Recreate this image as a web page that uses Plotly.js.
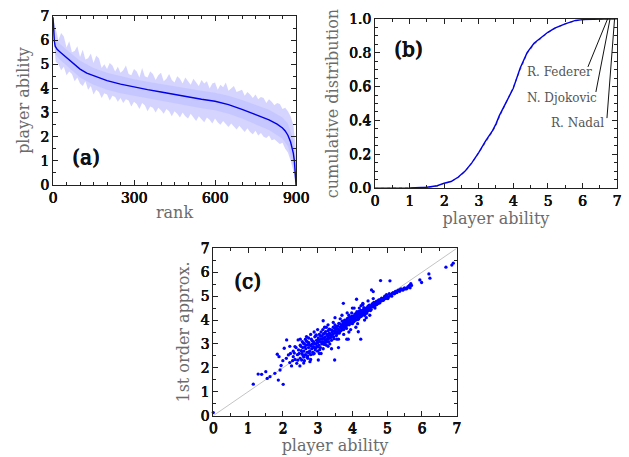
<!DOCTYPE html>
<html>
<head>
<meta charset="utf-8">
<script src="https://cdn.plot.ly/plotly-3.0.1.min.js"></script>
<style>html,body{margin:0;padding:0;background:#fff;}#chart{width:629px;height:457px;}</style>
</head>
<body>
<div id="chart"></div>
<script>
// ---------- Panel (a): player ability vs rank ----------
var lineRank = [0,2,5,8,15,27,50,75,100,125,150,175,200,250,300,350,400,450,500,550,600,650,700,750,800,830,850,860,870,880,885,890,894,897,900];
var lineAbility = [6.95,6.4,5.95,5.75,5.62,5.5,5.27,5.05,4.8,4.63,4.52,4.42,4.32,4.18,4.05,3.95,3.85,3.74,3.64,3.55,3.47,3.33,3.13,2.92,2.7,2.52,2.36,2.24,2.06,1.78,1.58,1.32,1.0,0.6,0.0];

var bandRank = [0,10,20,30,40,50,60,70,80,90,100,110,120,130,140,150,160,170,180,190,200,210,220,230,240,250,260,270,280,290,300,310,320,330,340,350,360,370,380,390,400,410,420,430,440,450,460,470,480,490,500,510,520,530,540,550,560,570,580,590,600,610,620,630,640,650,660,670,680,690,700,710,720,730,740,750,760,770,780,790,800,810,820,830,840,850,860,870,880,890,900];
var bandHigh = [6.95,6.5,6.0,6.3,6.15,5.7,5.95,5.5,5.55,5.75,5.3,5.6,5.2,5.25,5.45,5.05,5.35,5.25,4.85,5.0,4.8,5.05,4.95,4.7,4.9,4.65,4.75,4.95,4.6,4.55,4.8,4.7,4.45,4.85,4.5,4.45,4.7,4.6,4.35,4.55,4.65,4.3,4.4,4.6,4.35,4.25,4.5,4.4,4.2,4.45,4.3,4.15,4.4,4.25,4.1,4.35,4.2,4.3,4.0,4.2,4.25,3.95,4.15,4.05,4.25,3.9,4.0,4.1,3.85,3.9,3.95,3.7,3.85,3.75,3.6,3.75,3.55,3.65,3.6,3.4,3.55,3.45,3.3,3.4,3.35,3.15,3.2,3.05,2.85,2.5,1.5];
var bandLow = [6.4,5.1,5.0,4.75,4.9,4.55,4.7,4.6,4.3,4.45,4.2,4.1,4.3,3.95,4.1,3.75,3.95,3.85,3.6,3.8,3.75,3.5,3.7,3.65,3.45,3.6,3.4,3.55,3.5,3.25,3.45,3.35,3.15,3.4,3.3,3.05,3.25,3.2,3.0,3.2,3.1,2.95,3.15,3.05,2.85,3.05,2.95,2.8,3.0,2.85,2.75,2.95,2.8,2.65,2.85,2.75,2.6,2.8,2.7,2.55,2.75,2.6,2.5,2.65,2.55,2.4,2.55,2.45,2.3,2.45,2.35,2.2,2.35,2.2,2.1,2.25,2.05,2.15,2.0,1.95,2.05,1.85,1.9,1.8,1.7,1.75,1.5,1.35,1.0,0.6,0.0];

var coreRank = [0,10,25,50,100,150,200,250,300,350,400,450,500,550,600,650,700,750,800,850,870,890,900];
var coreHigh = [6.95,6.0,5.85,5.6,5.15,4.85,4.65,4.5,4.38,4.28,4.18,4.08,3.98,3.9,3.82,3.7,3.52,3.32,3.12,2.8,2.55,1.9,0.8];
var coreLow  = [6.5,5.4,5.2,4.95,4.45,4.15,3.95,3.8,3.68,3.58,3.48,3.38,3.28,3.18,3.1,2.95,2.75,2.52,2.28,1.92,1.6,0.8,0.0];

// ---------- Panel (b): cumulative distribution ----------
var cdfAbility = [0,0.5,1,1.5,1.8,2,2.2,2.4,2.6,2.8,3,3.2,3.4,3.5,3.6,3.8,4,4.2,4.4,4.6,4.8,5,5.2,5.5,5.8,6,6.3,6.6,6.8,7];
var cdfData  = [0,0,0.002,0.006,0.015,0.03,0.04,0.065,0.1,0.15,0.21,0.28,0.34,0.38,0.43,0.51,0.59,0.71,0.8,0.855,0.89,0.92,0.945,0.97,0.99,0.995,0.997,0.998,0.999,1.0];
var cdfModel = [0,0,0.001,0.005,0.014,0.028,0.04,0.062,0.098,0.148,0.207,0.272,0.335,0.372,0.422,0.505,0.595,0.7,0.795,0.85,0.887,0.918,0.943,0.969,0.988,0.994,0.997,0.999,1,1];

var playerNames = ["R. Federer","N. Djokovic","R. Nadal"];
var playerTipX  = [6.73, 6.80, 6.93];
var playerTipY  = [1.0, 1.0, 1.0];
var leaderEndX  = [6.16, 6.39, 6.71];
var leaderEndY  = [0.716, 0.568, 0.414];
var nameX       = [5.35, 5.41, 5.87];
var nameY       = [0.686, 0.533, 0.385];

// ---------- Panel (c): 1st order approximation ----------
var approxX = [0,0.14,1.15,1.29,1.39,1.51,1.55,1.63,1.77,1.84,1.89,1.87,1.92,2.01,2.04,2.11,2.16,2.2,2.25,2.3,2.35,2.4,2.44,2.49,2.54,2.59,2.68,2.78,2.88,3.02,3.16,3.49,3.6,3.74,3.84,3.88,4.12,4.24,4.17,4.55,4.6,4.81,5.08,5.51,5.94,5.99,6.2,6.23,6.69,6.86,6.9,
2.42,2.45,2.5,2.52,2.55,2.57,2.6,2.6,2.62,2.65,2.66,2.68,2.7,2.7,2.72,2.74,2.75,2.77,2.79,2.8,2.82,2.83,2.85,2.86,2.88,2.9,2.92,2.93,2.95,2.97,2.98,3.0,3.0,3.02,3.04,3.05,3.07,3.08,3.1,3.12,3.13,3.15,3.16,3.18,3.2,3.2,3.22,3.24,3.25,3.27,3.28,3.3,3.3,3.32,3.34,3.35,3.37,3.38,3.4,3.42,3.43,3.45,3.46,3.48,3.5,3.5,3.52,3.54,3.55,3.57,3.58,3.6,3.62,3.63,3.65,3.66,3.68,3.7,3.71,3.73,3.75,3.76,3.78,3.8,3.81,3.83,3.85,3.86,3.88,3.9,3.91,3.93,3.95,3.96,3.98,4.0,4.0,4.02,4.04,4.05,4.07,4.08,4.1,4.12,4.13,4.15,4.17,4.18,4.2,4.22,4.24,4.25,4.27,4.3,4.32,4.34,4.35,4.38,4.4,4.42,4.45,4.47,4.5,4.52,4.55,4.58,4.6,4.63,4.65,4.68,4.7,4.73,4.75,4.78,4.8,4.83,4.86,4.9,4.93,4.96,5.0,5.03,5.06,5.1,5.13,5.17,5.2,5.24,5.28,5.32,5.36,5.4,5.45,5.5,5.55,5.6,5.66,5.7,
3.0,3.1,3.2,3.3,3.5,3.6,3.7,3.9,4.0,4.1,4.3,4.4,4.6,4.5,3.4,2.9,2.8,2.3,2.1,2.0,2.2,2.6,2.5,2.35,1.95,
2.53,2.58,2.63,2.67,2.71,2.73,2.76,2.81,2.84,2.87,2.91,2.94,2.96,2.99,3.01,3.03,3.06,3.09,3.11,3.14,3.17,3.19,3.21,3.23,3.26,3.29,3.31,3.33,3.36,3.39,3.41,3.44,3.47,3.49,3.51,3.53,3.56,3.59,3.61,3.64,3.67,3.69,3.72,3.74,3.77,3.79,3.82,3.84,3.87,3.89,3.92,3.94,3.97,3.99,4.01,4.03,4.06,4.09,4.11,4.14,4.16,4.19,4.21,4.23,4.26,4.28,4.31,4.33,4.36,4.39,4.41,4.44,4.46,4.49,4.51,4.54,4.57,4.59,4.62,4.66,4.69,4.72,4.76,4.79,4.84,4.88,4.92,4.98,5.02,5.08,5.15,5.22,5.3,5.38,5.47,5.58,5.64,5.68,
2.22,2.28,2.33,2.38,2.43,2.47,2.56,2.62,2.69,2.74,2.8,2.9,3.05,3.15,3.25,3.35,3.45,3.55,3.65,3.75,3.85,3.95,4.05,4.15,4.25,4.35,4.45,4.3,4.2,3.3,3.1,2.95,2.65,2.5];
var approxY = [0.13,-0.04,1.32,1.74,1.73,1.84,1.56,1.63,1.77,2.57,2.47,1.49,1.91,1.31,2.82,3.17,2.54,2.22,2.08,2.47,2.89,2.19,3.17,2.08,2.33,3.03,3.31,2.26,2.89,2.33,3.97,2.33,2.85,4.7,3.2,3.2,4.87,3.2,3.51,5.26,5.19,5.65,5.64,5.31,5.68,5.57,5.93,5.75,6.21,6.3,6.38,
2.55,2.75,2.4,2.9,2.6,2.85,2.45,2.7,3.0,2.55,2.8,2.95,2.65,3.1,2.4,2.85,3.05,2.7,2.95,2.55,3.2,2.8,3.0,2.65,3.1,2.85,3.3,2.75,3.0,3.15,2.9,3.05,2.7,3.25,2.95,3.4,3.1,2.85,3.2,3.0,3.35,3.1,2.8,3.25,3.45,3.05,3.3,3.15,2.95,3.4,3.2,3.55,3.3,3.1,3.45,3.25,3.6,3.35,3.15,3.5,3.4,3.7,3.3,3.55,3.45,3.8,3.6,3.35,3.65,3.5,3.75,3.6,3.45,3.85,3.7,3.55,3.8,3.65,3.95,3.75,3.6,3.85,4.0,3.75,3.9,3.65,4.05,3.85,3.95,4.2,3.8,4.0,3.9,4.1,4.3,4.0,3.85,4.15,4.05,3.95,4.25,4.1,4.0,4.2,4.35,4.1,4.25,4.05,4.3,4.2,4.4,4.15,4.3,4.25,4.45,4.35,4.2,4.4,4.5,4.35,4.45,4.6,4.5,4.4,4.6,4.55,4.7,4.6,4.5,4.7,4.65,4.8,4.7,4.75,4.85,4.8,4.9,4.85,5.0,4.9,5.0,4.95,5.1,5.05,5.0,5.15,5.1,5.2,5.15,5.25,5.2,5.3,5.25,5.35,5.3,5.4,5.35,5.45,
3.6,2.6,3.7,2.9,4.1,3.2,4.2,3.5,4.5,3.7,4.7,4.1,4.9,4.2,2.8,3.5,3.4,2.7,2.4,2.3,2.9,2.2,3.2,2.35,2.1,
2.72,2.52,2.88,3.12,2.5,2.98,2.62,2.92,3.14,2.58,3.02,2.82,3.38,3.12,2.88,3.18,2.76,3.32,3.08,3.22,3.42,2.98,3.18,3.52,3.08,3.36,3.22,3.62,3.38,3.28,3.58,3.42,3.22,3.66,3.52,3.72,3.44,3.62,3.86,3.52,3.72,3.58,3.82,3.94,3.7,3.86,3.98,3.78,4.08,3.88,4.12,3.98,3.86,4.16,4.06,3.92,4.18,4.02,4.28,4.16,4.02,4.36,4.12,4.26,4.38,4.2,4.34,4.52,4.3,4.46,4.28,4.56,4.4,4.62,4.54,4.44,4.68,4.58,4.74,4.62,4.78,4.68,4.84,4.72,4.92,4.82,4.95,5.06,4.9,5.02,5.12,5.12,5.22,5.28,5.3,5.34,5.45,5.52,
2.6,2.3,2.62,2.85,2.32,2.6,3.1,2.3,2.45,3.25,2.35,2.6,2.6,3.6,3.7,3.0,3.9,3.2,4.05,3.4,4.3,3.6,4.5,3.85,4.6,4.0,4.8,4.65,4.5,3.8,3.5,3.35,3.2,2.95];
var diagX = [0, 7];
var diagY = [0, 7];

// ---------- styling ----------
var serif = "DejaVu Serif";
var fakeBold = "0.5px 0 0 #111, 0.25px 0 0 #111, 0 0.3px 0 #111";
var tickFont = {family: serif, size: 14, color: "#111", shadow: fakeBold};
var titleFont = {family: serif, size: 16, color: "#6b6b6b"};

function axis(opts) {
  var a = {
    showline: true, linecolor: "#222", linewidth: 1, mirror: "allticks",
    ticks: "inside", ticklen: 5, tickcolor: "#222", tickwidth: 1,
    showgrid: false, zeroline: false, fixedrange: true,
    tickfont: tickFont, automargin: false
  };
  for (var k in opts) a[k] = opts[k];
  return a;
}

function polygon(xs, hi, lo) {
  return {x: xs.concat(xs.slice().reverse()), y: hi.concat(lo.slice().reverse())};
}
var outer = polygon(bandRank, bandHigh, bandLow);
var core = polygon(coreRank, coreHigh, coreLow);

var traces = [
  {x: outer.x, y: outer.y, type: "scatter", mode: "lines", fill: "toself",
   fillcolor: "rgba(170,170,255,0.5)", line: {width: 0}, xaxis: "x", yaxis: "y", hoverinfo: "skip"},
  {x: core.x, y: core.y, type: "scatter", mode: "lines", fill: "toself",
   fillcolor: "rgba(150,150,255,0.2)", line: {width: 0}, xaxis: "x", yaxis: "y", hoverinfo: "skip"},
  {x: lineRank, y: lineAbility, type: "scatter", mode: "lines",
   line: {color: "#0000e6", width: 1.4}, xaxis: "x", yaxis: "y"},

  {x: cdfAbility, y: cdfModel, type: "scatter", mode: "lines",
   line: {color: "#888", width: 1.2, dash: "dot"}, xaxis: "x2", yaxis: "y2"},
  {x: cdfAbility, y: cdfData, type: "scatter", mode: "lines",
   line: {color: "#0000e6", width: 1.4}, xaxis: "x2", yaxis: "y2"},

  {x: diagX, y: diagY, type: "scatter", mode: "lines",
   line: {color: "#c4c4c4", width: 1}, xaxis: "x3", yaxis: "y3"},
  {x: approxX, y: approxY, type: "scatter", mode: "markers",
   marker: {color: "#0000ff", size: 3.3, line: {width: 0}}, xaxis: "x3", yaxis: "y3", cliponaxis: false}
];

var shapes = [];
var annotations = [];
for (var i = 0; i < playerNames.length; i++) {
  shapes.push({type: "line", xref: "x2", yref: "y2", x0: playerTipX[i], y0: playerTipY[i],
               x1: leaderEndX[i], y1: leaderEndY[i], line: {color: "#111", width: 1}});
  annotations.push({xref: "x2", yref: "y2", x: nameX[i], y: nameY[i], text: playerNames[i],
                    xanchor: "center", yanchor: "middle",
                    showarrow: false, font: {family: serif, size: 12, color: "#555"}});
}
var panelLabels = [["(a)", 0.136, 0.657], ["(b)", 0.649, 0.893], ["(c)", 0.394, 0.385]];
panelLabels.forEach(function (p) {
  annotations.push({xref: "paper", yref: "paper", x: p[1], y: p[2], text: p[0], showarrow: false,
                    xanchor: "center", yanchor: "middle",
                    font: {family: serif, size: 20, color: "#111", shadow: "0.8px 0 0 #111, 0.4px 0 0 #111, 0 0.5px 0 #111"}});
});

var layout = {
  width: 629, height: 457,
  margin: {l: 0, r: 0, t: 0, b: 0},
  paper_bgcolor: "#fff", plot_bgcolor: "#fff",
  showlegend: false,
  xaxis: axis({domain: [0.0843, 0.4706], range: [0, 900], tickvals: [0, 300, 600, 900],
               minor: {dtick: 50, ticks: "inside", ticklen: 3, tickcolor: "#222"},
               title: {text: "rank", font: titleFont, standoff: 2}, anchor: "y"}),
  yaxis: axis({domain: [0.5952, 0.965], range: [0, 7], dtick: 1,
               minor: {dtick: 0.5, ticks: "inside", ticklen: 3, tickcolor: "#222"},
               title: {text: "player ability", font: titleFont, standoff: 6}, anchor: "x"}),
  xaxis2: axis({domain: [0.5962, 0.9809], range: [0, 7], dtick: 1,
               minor: {dtick: 0.5, ticks: "inside", ticklen: 3, tickcolor: "#222"},
               title: {text: "player ability", font: titleFont, standoff: 2}, anchor: "y2"}),
  yaxis2: axis({domain: [0.588, 0.959], range: [0, 1], dtick: 0.2, tickformat: ".1f",
               minor: {dtick: 0.05, ticks: "inside", ticklen: 3, tickcolor: "#222"},
               title: {text: "cumulative distribution", font: titleFont, standoff: 6}, anchor: "x2"}),
  xaxis3: axis({domain: [0.3391, 0.7261], range: [0, 7], dtick: 1,
               minor: {dtick: 0.5, ticks: "inside", ticklen: 3, tickcolor: "#222"},
               title: {text: "player ability", font: titleFont, standoff: 2}, anchor: "y3"}),
  yaxis3: axis({domain: [0.0904, 0.4566], range: [0, 7], dtick: 1,
               minor: {dtick: 0.5, ticks: "inside", ticklen: 3, tickcolor: "#222"},
               title: {text: "1st order approx.", font: titleFont, standoff: 6}, anchor: "x3"}),
  shapes: shapes,
  annotations: annotations
};

Plotly.newPlot("chart", traces, layout, {displayModeBar: false, staticPlot: true});
</script>
</body>
</html>
